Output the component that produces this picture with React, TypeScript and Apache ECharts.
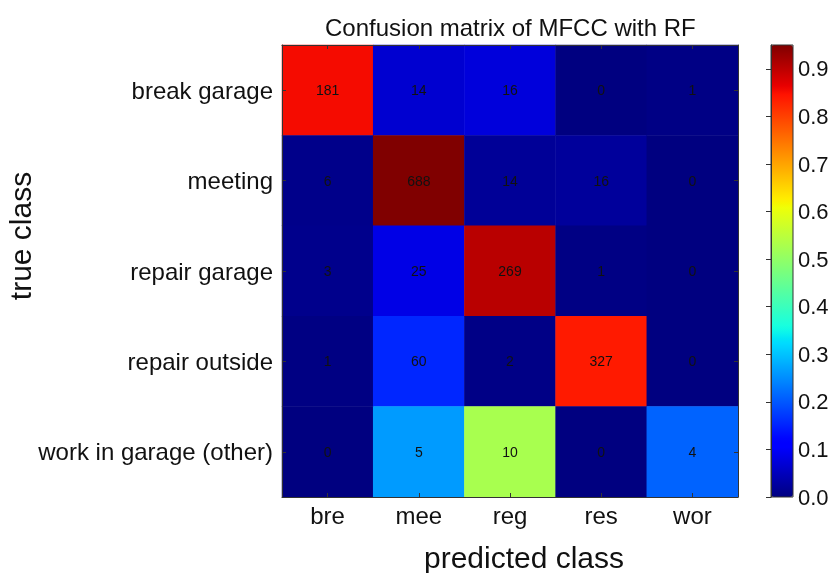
import React, { useEffect, useRef } from "react";
import * as echarts from "echarts";

const trueClasses = ["break garage", "meeting", "repair garage", "repair outside", "work in garage (other)"];
const predictedLabels = ["bre", "mee", "reg", "res", "wor"];
const rowBreakGarage = [181, 14, 16, 0, 1];
const rowMeeting = [6, 688, 14, 16, 0];
const rowRepairGarage = [3, 25, 269, 1, 0];
const rowRepairOutside = [1, 60, 2, 327, 0];
const rowWorkInGarage = [0, 5, 10, 0, 4];
const rows = [rowBreakGarage, rowMeeting, rowRepairGarage, rowRepairOutside, rowWorkInGarage];
const colorbarTicks = [0, 0.1, 0.2, 0.3, 0.4, 0.5, 0.6, 0.7, 0.8, 0.9];

// matplotlib "jet" colormap
const seg = (pts: number[][], t: number) => {
  for (let i = 1; i < pts.length; i++) {
    if (t <= pts[i][0]) {
      const [x0, y0] = pts[i - 1];
      const [x1, y1] = pts[i];
      return y0 + ((t - x0) / (x1 - x0)) * (y1 - y0);
    }
  }
  return pts[pts.length - 1][1];
};
const jet = (t: number) => {
  const r = seg([[0, 0], [0.35, 0], [0.66, 1], [0.89, 1], [1, 0.5]], t);
  const g = seg([[0, 0], [0.125, 0], [0.375, 1], [0.64, 1], [0.91, 0], [1, 0]], t);
  const b = seg([[0, 0.5], [0.11, 1], [0.34, 1], [0.65, 0], [1, 0]], t);
  const h = (v: number) => Math.round(v * 255).toString(16).padStart(2, "0");
  return "#" + h(r) + h(g) + h(b);
};
const jetColors: string[] = [];
for (let i = 0; i <= 100; i++) jetColors.push(jet(i / 100));

const FONT = "Liberation Sans";

export default function App() {
  const ref = useRef<HTMLDivElement>(null);
  useEffect(() => {
    if (!ref.current) return;
    const chart = echarts.init(ref.current, null, { renderer: "svg" });
    const data: number[][] = [];
    rows.forEach((row, y) => {
      const sum = row.reduce((a, b) => a + b, 0);
      row.forEach((c, x) => data.push([x, y, c / sum, c]));
    });
    const maxRatio = Math.max(...data.map((d) => d[2]));
    const axisLineStyle = { lineStyle: { color: "#333", width: 1 } };
    chart.setOption({
      animation: false,
      textStyle: { fontFamily: FONT },
      title: {
        text: "Confusion matrix of MFCC with RF",
        left: 325,
        top: 15,
        padding: 0,
        textStyle: { fontFamily: FONT, fontSize: 24, fontWeight: "normal", color: "#111" },
      },
      grid: [
        { left: 282, top: 45, width: 456, height: 452 },
        { left: 771, top: 45, width: 22, height: 452 },
      ],
      xAxis: [
        {
          type: "category",
          gridIndex: 0,
          data: predictedLabels,
          position: "bottom",
          z: 10,
          axisLine: { show: true, ...axisLineStyle },
          axisTick: { show: true, inside: true, alignWithLabel: true, length: 4, lineStyle: { color: "#333" } },
          axisLabel: { fontFamily: FONT, fontSize: 24, color: "#111", margin: 6 },
          splitLine: { show: false },
        },
        {
          type: "category",
          gridIndex: 0,
          data: predictedLabels,
          position: "top",
          z: 10,
          axisLine: { show: true, ...axisLineStyle },
          axisTick: { show: true, inside: true, alignWithLabel: true, length: 4, lineStyle: { color: "#333" } },
          axisLabel: { show: false },
        },
        {
          type: "value",
          gridIndex: 1,
          show: false,
        },
      ],
      yAxis: [
        {
          type: "category",
          gridIndex: 0,
          data: trueClasses,
          inverse: true,
          position: "left",
          z: 10,
          axisLine: { show: true, ...axisLineStyle },
          axisTick: { show: true, inside: true, alignWithLabel: true, length: 4, lineStyle: { color: "#333" } },
          axisLabel: { fontFamily: FONT, fontSize: 24, color: "#111", margin: 9, padding: [0, 0, 4, 0] },
        },
        {
          type: "category",
          gridIndex: 0,
          data: trueClasses,
          inverse: true,
          position: "right",
          z: 10,
          axisLine: { show: true, ...axisLineStyle },
          axisTick: { show: true, inside: true, alignWithLabel: true, length: 4, lineStyle: { color: "#333" } },
          axisLabel: { show: false },
        },
        {
          type: "value",
          gridIndex: 1,
          min: 0,
          max: maxRatio,
          interval: 0.1,
          position: "right",
          z: 10,
          axisLine: { show: true, ...axisLineStyle },
          axisTick: { show: true, inside: true, length: 5, lineStyle: { color: "#333" } },
          axisLabel: {
            fontFamily: FONT,
            fontSize: 22,
            color: "#111",
            margin: 5,
            showMaxLabel: false,
            formatter: (v: number) => (colorbarTicks.some((t) => Math.abs(t - v) < 1e-6) ? v.toFixed(1) : ""),
          },
          splitLine: { show: false },
        },
      ],
      visualMap: {
        type: "continuous",
        min: 0,
        max: maxRatio,
        dimension: 2,
        seriesIndex: 0,
        left: 771,
        top: 45,
        padding: 0,
        z: 1,
        itemWidth: 22,
        itemHeight: 452,
        calculable: false,
        hoverLink: false,
        showLabel: false,
        text: ["", ""],
        inRange: { color: jetColors },
      },
      series: [
        {
          type: "heatmap",
          xAxisIndex: 0,
          yAxisIndex: 0,
          data,
          label: {
            show: true,
            fontFamily: FONT,
            fontSize: 14,
            color: "#111",
            formatter: (p: any) => String(p.data[3]),
          },
          itemStyle: { borderWidth: 0 },
        },
      ],
      graphic: [
        {
          type: "rect",
          z: 100,
          shape: { x: 771, y: 45, width: 22, height: 452 },
          style: { fill: "none", stroke: "#333", lineWidth: 1 },
        },
        {
          type: "text",
          x: 20,
          y: 236,
          rotation: Math.PI / 2,
          style: {
            text: "true class",
            fontFamily: FONT,
            fontSize: 30,
            fill: "#111",
            align: "center",
            verticalAlign: "middle",
          },
        },
        {
          type: "text",
          x: 524,
          y: 557,
          style: {
            text: "predicted class",
            fontFamily: FONT,
            fontSize: 30,
            fill: "#111",
            align: "center",
            verticalAlign: "middle",
          },
        },
      ],
    });
    return () => chart.dispose();
  }, []);
  return (
    <div
      ref={ref}
      style={{ position: "fixed", left: 0, top: 0, width: 834, height: 573 }}
    />
  );
}
